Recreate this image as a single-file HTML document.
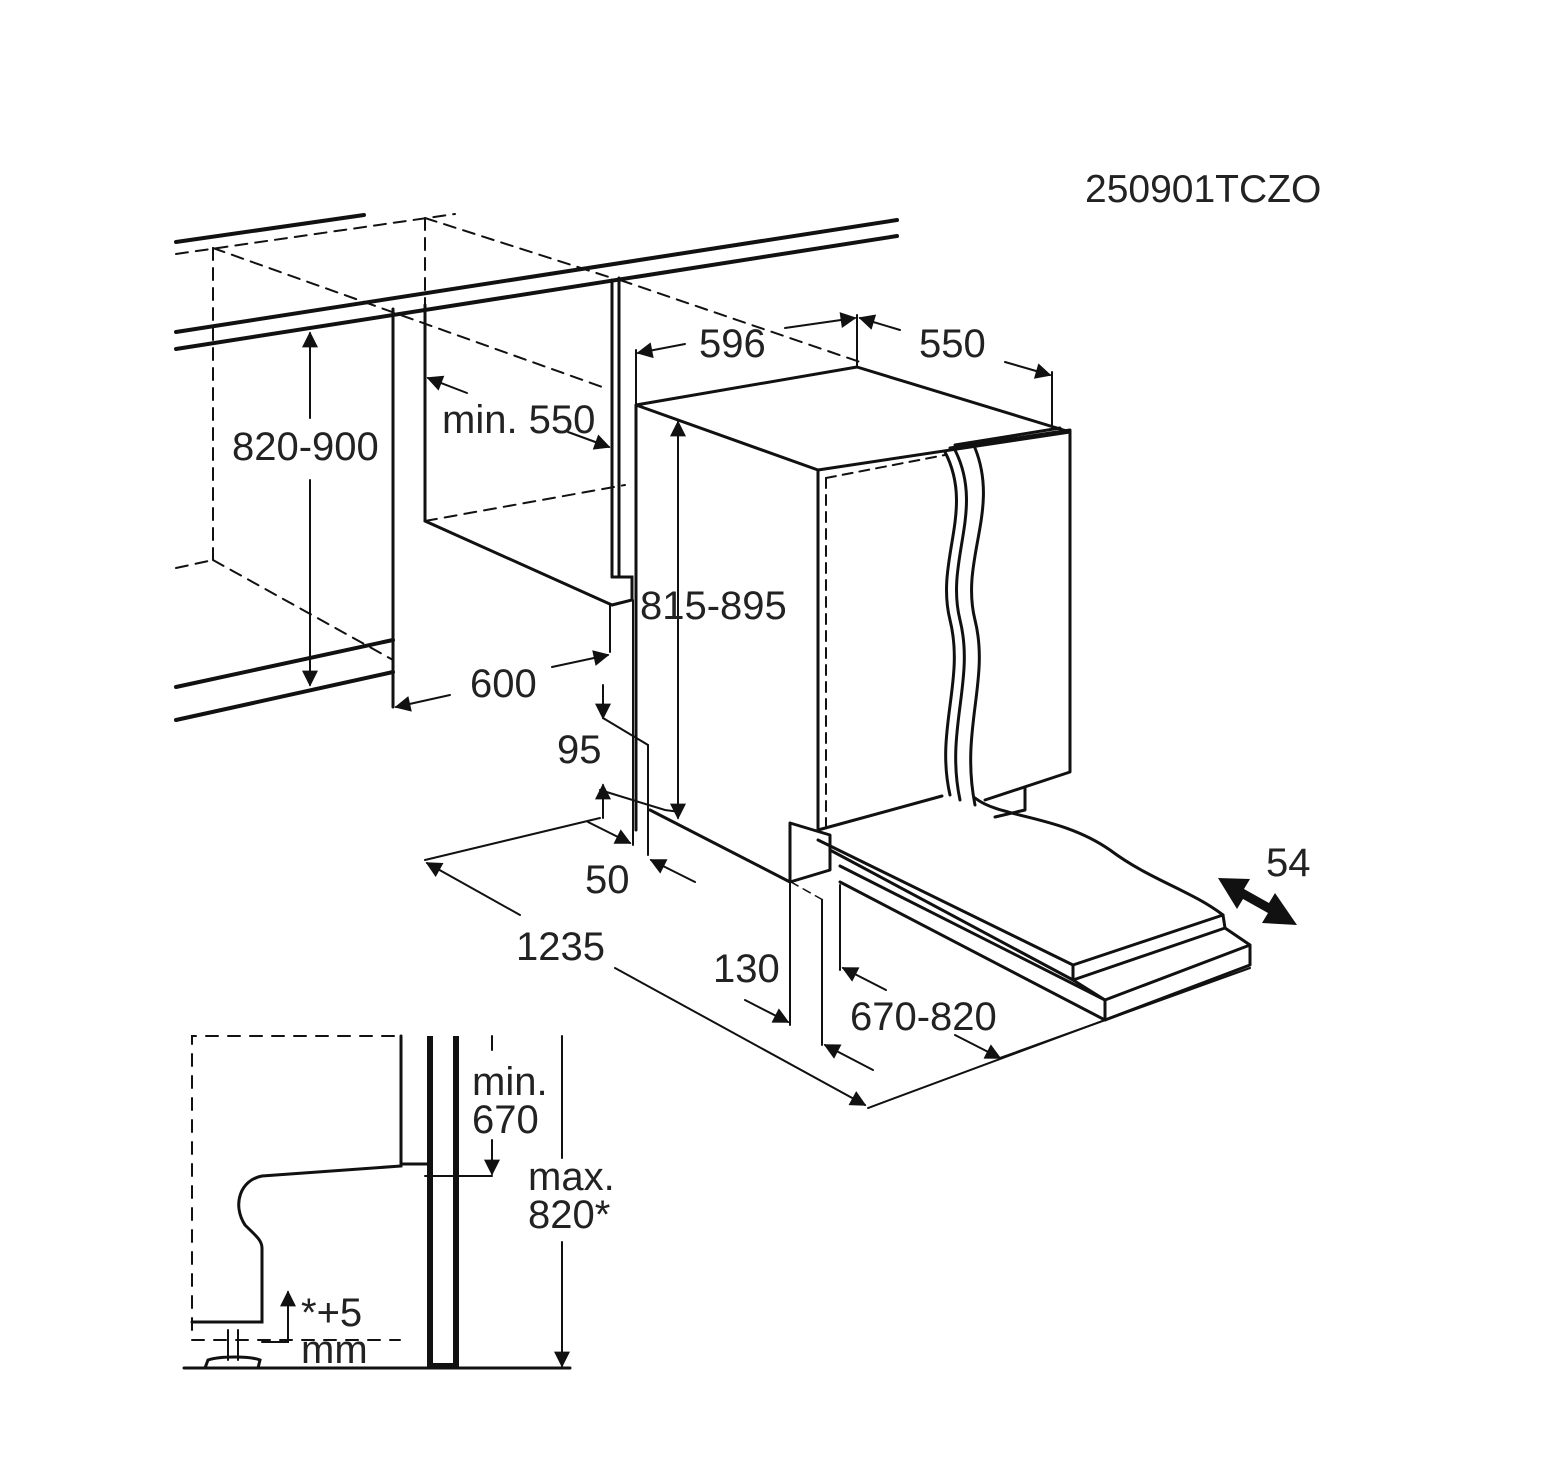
<!DOCTYPE html>
<html><head><style>
body{margin:0;background:#fff}
svg{display:block}
text{font-family:"Liberation Sans",sans-serif;fill:#222}
</style></head><body>
<svg width="1556" height="1482" viewBox="0 0 1556 1482" xmlns="http://www.w3.org/2000/svg">
<defs>
<marker id="b" viewBox="0 0 10 10" refX="9" refY="5" markerWidth="24" markerHeight="16" markerUnits="userSpaceOnUse" orient="auto-start-reverse">
<path d="M0,0 L10,5 L0,10 z" fill="#111"/></marker>
</defs>
<g stroke="#111" fill="none" stroke-linecap="round">
<text x="1085" y="202" font-size="39" stroke="none">250901TCZO</text>

<!-- countertop -->
<g stroke-width="4">
<line x1="176" y1="242" x2="364" y2="215"/>
<line x1="176" y1="332" x2="897" y2="220"/>
<line x1="176" y1="349" x2="897" y2="236"/>
<line x1="176" y1="687" x2="393" y2="640"/>
<line x1="176" y1="720" x2="393" y2="672"/>
</g>
<!-- dashed cabinet -->
<g stroke-width="2" stroke-dasharray="12,8">
<line x1="176" y1="254" x2="455" y2="214"/>
<line x1="213" y1="248" x2="213" y2="560"/>
<line x1="213" y1="248" x2="605" y2="388"/>
<line x1="425" y1="218" x2="425" y2="305"/>
<line x1="425" y1="218" x2="612" y2="278"/>
<line x1="620" y1="280" x2="860" y2="362"/>
<line x1="176" y1="568" x2="213" y2="560"/>
<line x1="213" y1="560" x2="393" y2="660"/>
<line x1="425" y1="521" x2="625" y2="485"/>
</g>
<!-- cabinet side & inner -->
<g stroke-width="3">
<polyline points="393,309 393,707"/>
<polyline points="425,305 425,521 612,605"/>
<polyline points="612,280 612,577"/>
<polyline points="619,278 619,577"/>
<polyline points="612,577 632,577 632,600 612,605"/>
</g>
<line x1="610" y1="605" x2="610" y2="652" stroke-width="2"/>

<!-- appliance -->
<g stroke-width="3" stroke-linejoin="round">
<polygon points="636,405 857,367 1070,432 818,470"/>
<line x1="636" y1="405" x2="636" y2="830"/>
<line x1="818" y1="470" x2="818" y2="830"/>
<polyline points="950,448 1070,430 1070,772 985,800"/>
<line x1="955" y1="445" x2="1060" y2="428"/>
<polyline points="790,823 830,835 830,870 790,882 790,823"/>
<line x1="650" y1="810" x2="790" y2="882"/>
<polyline points="1025,787 1025,810 995,817"/>
<polyline points="818,830 942,796"/>
<path d="M975,798 C1000,818 1060,815 1110,850 C1150,880 1190,890 1223,915"/>
<polyline points="1223,915 1225,928 1073,980 1073,965 1223,915"/>
<line x1="818" y1="840" x2="1073" y2="965"/>
<line x1="830" y1="850" x2="1073" y2="980"/>
<polyline points="1225,928 1250,945 1250,965 1105,1020 1105,1000 1073,980"/>
<line x1="1105" y1="1000" x2="1250" y2="945"/>
<line x1="840" y1="866" x2="1105" y2="1000"/>
<line x1="840" y1="882" x2="1105" y2="1020"/>
<path d="M945,452 C975,510 935,560 950,620 C965,680 935,730 950,795" />
<path d="M955,450 C985,510 945,560 960,620 C975,680 945,730 960,800" />
<path d="M975,448 C1000,510 960,560 975,620 C990,680 960,730 975,805" />
</g>
<line x1="826" y1="478" x2="826" y2="830" stroke-width="2" stroke-dasharray="10,7"/>
<line x1="826" y1="478" x2="945" y2="455" stroke-width="2" stroke-dasharray="10,7"/>
<line x1="791" y1="882" x2="823" y2="900" stroke-width="1.5" stroke-dasharray="8,6"/>

<!-- dimension lines -->
<g stroke-width="2">
<line x1="636" y1="405" x2="636" y2="350"/>
<line x1="857" y1="367" x2="857" y2="315"/>
<line x1="1052" y1="372" x2="1052" y2="425"/>
<line x1="785" y1="328" x2="855" y2="318" marker-end="url(#b)"/>
<line x1="685" y1="344" x2="638" y2="353" marker-end="url(#b)"/>
<line x1="900" y1="330" x2="860" y2="318" marker-end="url(#b)"/>
<line x1="1005" y1="362" x2="1050" y2="375" marker-end="url(#b)"/>
<line x1="310" y1="418" x2="310" y2="333" marker-end="url(#b)"/>
<line x1="310" y1="480" x2="310" y2="685" marker-end="url(#b)"/>
<line x1="467" y1="393" x2="428" y2="378" marker-end="url(#b)"/>
<line x1="568" y1="432" x2="609" y2="447" marker-end="url(#b)"/>
<line x1="552" y1="667" x2="608" y2="655" marker-end="url(#b)"/>
<line x1="450" y1="695" x2="396" y2="707" marker-end="url(#b)"/>
<line x1="678" y1="470" x2="678" y2="422" marker-end="url(#b)"/>
<line x1="678" y1="470" x2="678" y2="818" marker-end="url(#b)"/>
<polyline points="603,718 648,745 648,855"/>
<line x1="603" y1="685" x2="603" y2="718" marker-end="url(#b)"/>
<polyline points="633,600 633,845"/>
<polyline points="600,790 665,810 680,812"/>
<line x1="603" y1="818" x2="603" y2="785" marker-end="url(#b)"/>
<line x1="588" y1="822" x2="630" y2="843" marker-end="url(#b)"/>
<line x1="695" y1="882" x2="651" y2="860" marker-end="url(#b)"/>
<line x1="425" y1="860" x2="600" y2="818"/>
<line x1="520" y1="915" x2="427" y2="863" marker-end="url(#b)"/>
<line x1="615" y1="968" x2="865" y2="1105" marker-end="url(#b)"/>
<line x1="868" y1="1108" x2="1105" y2="1020"/>
<line x1="790" y1="882" x2="790" y2="1025"/>
<line x1="822" y1="900" x2="822" y2="1045"/>
<line x1="840" y1="885" x2="840" y2="970"/>
<line x1="745" y1="1000" x2="788" y2="1022" marker-end="url(#b)"/>
<line x1="873" y1="1070" x2="825" y2="1045" marker-end="url(#b)"/>
<line x1="886" y1="990" x2="843" y2="968" marker-end="url(#b)"/>
<line x1="955" y1="1035" x2="1000" y2="1058" marker-end="url(#b)"/>
<line x1="1000" y1="1058" x2="1250" y2="968"/>
</g>
<!-- 54 double arrow -->
<polygon points="1218,878 1250,879 1244,889 1269,903 1275,893 1297,925 1262,923 1268,913 1243,899 1237,909" fill="#111" stroke="none"/>

<g stroke="none" font-size="40">
<text x="699" y="357">596</text>
<text x="919" y="357">550</text>
<text x="232" y="460">820-900</text>
<text x="442" y="433">min. 550</text>
<text x="640" y="619">815-895</text>
<text x="470" y="697">600</text>
<text x="557" y="763">95</text>
<text x="585" y="893">50</text>
<text x="516" y="960">1235</text>
<text x="713" y="982">130</text>
<text x="850" y="1030">670-820</text>
<text x="1266" y="876">54</text>
<text x="472" y="1095">min.</text>
<text x="472" y="1133">670</text>
<text x="528" y="1190">max.</text>
<text x="528" y="1228">820*</text>
<text x="301" y="1326">*+5</text>
<text x="301" y="1363">mm</text>
</g>

<!-- lower detail -->
<polyline points="192,1330 192,1036 400,1036" stroke-width="2" stroke-dasharray="12,10"/>
<line x1="192" y1="1340" x2="400" y2="1340" stroke-width="2" stroke-dasharray="12,10"/>
<g stroke-width="3">
<line x1="184" y1="1368" x2="570" y2="1368"/>
<path d="M401,1036 L401,1166 L262,1176 C240,1180 232,1205 245,1225 C255,1235 262,1240 262,1248 L262,1322 L192,1322"/>
<line x1="401" y1="1164" x2="428" y2="1164"/>
<path d="M205,1368 L208,1360 C220,1356 250,1356 260,1360 L258,1368 Z"/>
<line x1="228" y1="1330" x2="228" y2="1360" stroke-width="2"/>
<line x1="238" y1="1330" x2="238" y2="1360" stroke-width="2"/>
</g>
<polyline points="430,1036 430,1366 456,1366 456,1036" stroke-width="6" stroke-linecap="butt"/>
<line x1="425" y1="1176" x2="492" y2="1176" stroke-width="2"/>
<line x1="492" y1="1036" x2="492" y2="1050" stroke-width="2"/>
<line x1="492" y1="1140" x2="492" y2="1174" stroke-width="2" marker-end="url(#b)"/>
<line x1="562" y1="1036" x2="562" y2="1158" stroke-width="2"/>
<line x1="562" y1="1242" x2="562" y2="1366" stroke-width="2" marker-end="url(#b)"/>
<polyline points="262,1342 288,1342 288,1292" stroke-width="2" marker-end="url(#b)"/>
</g>
</svg>
</body></html>
